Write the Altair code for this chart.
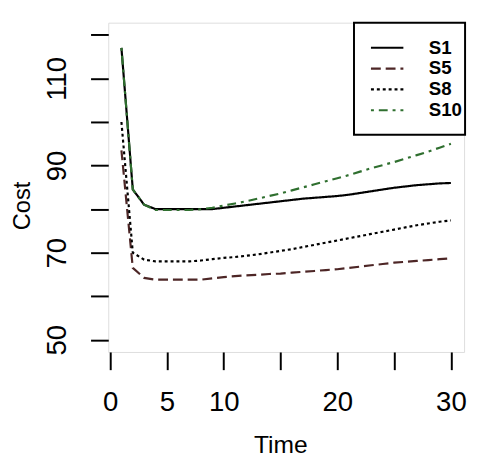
import altair as alt
import pandas as pd

time = list(range(1, 31))
s1 = [117.0, 84.5, 81.0, 80.0, 80.0, 80.0, 80.0, 80.0, 80.0, 80.3,
      80.6, 80.9, 81.2, 81.5, 81.8, 82.1, 82.4, 82.6, 82.8, 83.0,
      83.3, 83.7, 84.1, 84.5, 84.9, 85.2, 85.5, 85.7, 85.9, 86.0]
s5 = [93.5, 66.5, 64.2, 63.8, 63.8, 63.8, 63.8, 63.8, 64.1, 64.4,
      64.6, 64.8, 64.9, 65.1, 65.2, 65.4, 65.6, 65.8, 66.0, 66.2,
      66.5, 66.8, 67.1, 67.4, 67.7, 67.9, 68.1, 68.3, 68.5, 68.7]
s8 = [100.0, 70.0, 68.4, 68.0, 68.0, 68.0, 68.0, 68.2, 68.5, 68.8,
      69.0, 69.3, 69.6, 70.0, 70.4, 70.8, 71.3, 71.8, 72.3, 72.8,
      73.3, 73.8, 74.3, 74.8, 75.3, 75.8, 76.3, 76.7, 77.1, 77.4]
s10 = [117.0, 84.5, 81.0, 79.8, 79.8, 79.8, 79.8, 80.0, 80.3, 80.8,
       81.3, 81.8, 82.4, 83.0, 83.6, 84.3, 85.0, 85.7, 86.4, 87.1,
       87.8, 88.6, 89.4, 90.1, 90.8, 91.6, 92.4, 93.2, 94.1, 95.0]

series_names = ["S1", "S5", "S8", "S10"]
series_values = [s1, s5, s8, s10]
series_colors = ["#000000", "#4d2626", "#000000", "#2f6f2f"]
series_dashes = [[1, 0], [10, 5], [3, 3], [3, 5, 9, 5]]

x_ticks = [0, 5, 10, 15, 20, 25, 30]
y_ticks = [50, 60, 70, 80, 90, 100, 110, 120]

rows = []
for name, vals in zip(series_names, series_values):
    for t, v in zip(time, vals):
        rows.append({"Time": t, "Cost": v, "Series": name})
df = pd.DataFrame(rows)

FONT = "Liberation Sans"

legend = alt.Legend(
    title=None, orient="none", legendX=250, legendY=0, padding=16,
    symbolType="M-1,0H3", symbolSize=272, symbolStrokeWidth=2.2,
    labelFont=FONT, labelFontSize=19, labelFontWeight="bold", labelColor="black",
    labelOffset=41, rowPadding=1.2,
)

lines = alt.Chart(df).mark_line(strokeWidth=2.2).encode(
    x=alt.X("Time:Q",
            scale=alt.Scale(domain=[-0.16, 31.16], nice=False, zero=False),
            axis=alt.Axis(values=x_ticks, title="Time", grid=False, domain=False,
                          tickSize=18, tickWidth=2, tickColor="black",
                          labelExpr="(datum.value == 15 || datum.value == 25) ? '' : datum.label",
                          labelFont=FONT, labelFontSize=28, labelColor="black",
                          labelBaseline="top", labelPadding=20,
                          titleFont=FONT, titleFontSize=25, titleFontWeight="normal",
                          titleColor="black", titleX=175, titleY=102,
                          titleBaseline="alphabetic")),
    y=alt.Y("Cost:Q",
            scale=alt.Scale(domain=[47.2, 122.8], nice=False, zero=False),
            axis=alt.Axis(values=y_ticks, title="Cost", grid=False, domain=False,
                          tickSize=18, tickWidth=2, tickColor="black",
                          labelExpr="datum.value % 20 == 10 ? datum.label : ''",
                          labelFont=FONT, labelFontSize=28, labelColor="black",
                          labelAngle=270, labelAlign="center", labelBaseline="alphabetic",
                          labelPadding=25,
                          titleFont=FONT, titleFontSize=24, titleFontWeight="normal",
                          titleColor="black", titleAngle=270, titleX=-87, titleY=186,
                          titleBaseline="middle")),
    color=alt.Color("Series:N", sort=series_names,
                    scale=alt.Scale(domain=series_names, range=series_colors), legend=legend),
    strokeDash=alt.StrokeDash("Series:N", sort=series_names,
                              scale=alt.Scale(domain=series_names, range=series_dashes),
                              legend=legend),
)

box = alt.Chart(pd.DataFrame({"k": [0]})).mark_rect(
    fill="white", stroke="black", strokeWidth=2
).encode(x=alt.value(250), x2=alt.value(363), y=alt.value(0), y2=alt.value(114))

chart = alt.layer(box, lines).properties(
    width=362, height=335,
    autosize=alt.AutoSizeParams(type="none"),
    padding={"left": 102, "top": 11, "right": 5, "bottom": 108},
).configure_view(stroke="black", strokeWidth=2).configure(background="white")

chart.save("out.html", embed_options={"renderer": "svg", "actions": False})
